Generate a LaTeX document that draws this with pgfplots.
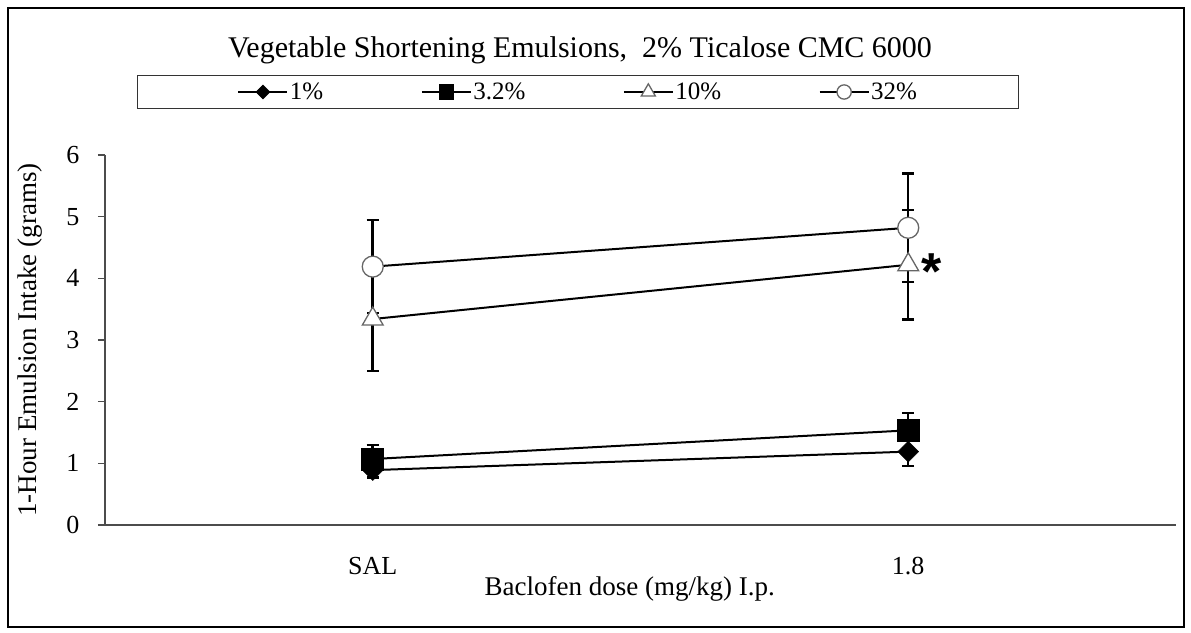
\documentclass[border=0pt]{standalone}
\usepackage{fontspec}
\setmainfont{Liberation Serif}
\newfontfamily\sansf{Liberation Sans}
\usepackage{pgfplots}
\pgfplotsset{compat=1.18}
\begin{document}
\begin{tikzpicture}[x=1pt,y=1pt]
\useasboundingbox (0,0) rectangle (1191,632);
\draw[line width=2.5pt] (8,5) rectangle (1184,624);
\node[font=\fontsize{30}{35}\selectfont] at (580,582) {Vegetable Shortening Emulsions,\ \ 2\% Ticalose CMC 6000};
\begin{axis}[
  at={(105pt,107pt)}, anchor=south west, scale only axis,
  width=1071pt, height=370pt,
  xmin=0.5, xmax=2.5, ymin=0, ymax=6,
  axis x line=bottom, axis y line=left,
  axis line style={-, draw=black!70, line width=1.8pt},
  xtick={1,2}, xticklabels={SAL,1.8},
  ytick={0,1,2,3,4,5,6},
  xtick style={draw=none},
  ytick style={draw=black!70, line width=1.5pt},
  tick align=outside, major tick length=7pt,
  tick label style={font=\fontsize{26}{30}\selectfont},
  /pgf/number format/assume math mode=true,
  yticklabel style={xshift=-15pt},
  xticklabel style={yshift=-22pt},
  xlabel={Baclofen dose (mg/kg) I.p.},
  ylabel={1-Hour Emulsion Intake (grams)},
  every axis x label/.style={at={(axis description cs:0.490,-0.172)}, anchor=center, font=\fontsize{27}{32}\selectfont},
  every axis y label/.style={at={(axis description cs:-0.070,0.5)}, rotate=90, anchor=center, font=\fontsize{27}{32}\selectfont},
  clip=false,
  legend columns=4,
  legend style={at={(0.4416,1.1703)}, anchor=center, draw=black!80, line width=1.2pt, fill=white,
    inner xsep=100pt, inner ysep=6pt, font=\fontsize{25}{29}\selectfont,
    /tikz/every even column/.append style={column sep=96pt}, nodes={inner sep=1.5pt}},
  legend image code/.code={\draw[mark repeat=2,mark phase=2,#1, every mark/.append style={scale=0.68}] plot coordinates {(0pt,0pt) (24.5pt,0pt) (49pt,0pt)};},
]
% error bars (drawn first, under markers)
\addplot[forget plot, draw=none, mark=none, error bars/.cd, y dir=both, y explicit,
  error bar style={draw=black, line width=2.5pt},
  error mark options={rotate=90, draw=black, line width=2.5pt, mark size=6pt}]
  coordinates {(1,0.89) +- (0,0.12) (2,1.19) +- (0,0.23)};
\addplot[forget plot, draw=none, mark=none, error bars/.cd, y dir=both, y explicit,
  error bar style={draw=black, line width=2.5pt},
  error mark options={rotate=90, draw=black, line width=2.5pt, mark size=6pt}]
  coordinates {(1,1.07) +- (0,0.23) (2,1.535) +- (0,0.285)};
\addplot[forget plot, draw=none, mark=none, error bars/.cd, y dir=both, y explicit,
  error bar style={draw=black, line width=2.5pt},
  error mark options={rotate=90, draw=black, line width=2.5pt, mark size=6pt}]
  coordinates {(1,3.34) +- (0,0.84) (2,4.22) +- (0,0.89)};
\addplot[forget plot, draw=none, mark=none, error bars/.cd, y dir=both, y explicit,
  error bar style={draw=black, line width=2.5pt},
  error mark options={rotate=90, draw=black, line width=2.5pt, mark size=6pt}]
  coordinates {(1,4.19) +- (0,0.755) (2,4.82) +- (0,0.88)};
% series
\addplot[black, line width=2pt, mark=square*, mark options={rotate=45, fill=black, draw=black, mark size=7.3pt, line width=0.5pt}]
  coordinates {(1,0.89) (2,1.19)};
\addlegendentry{1\%}
\addplot[black, line width=2pt, mark=square*, mark options={fill=black, draw=black, mark size=11pt, line width=0.5pt}]
  coordinates {(1,1.07) (2,1.535)};
\addlegendentry{3.2\%}
\addplot[black, line width=2pt, mark=triangle*, mark options={fill=white, draw=black!60, mark size=12pt, line width=1.3pt}]
  coordinates {(1,3.34) (2,4.22)};
\addlegendentry{10\%}
\addplot[black, line width=2pt, mark=*, mark options={fill=white, draw=black!60, mark size=10.5pt, line width=1.3pt}]
  coordinates {(1,4.19) (2,4.82)};
\addlegendentry{32\%}
\node[font=\sansf\bfseries\fontsize{52}{52}\selectfont, anchor=base, inner sep=0pt] at (axis cs:2.043,3.82) {*};
\end{axis}
\end{tikzpicture}
\end{document}
